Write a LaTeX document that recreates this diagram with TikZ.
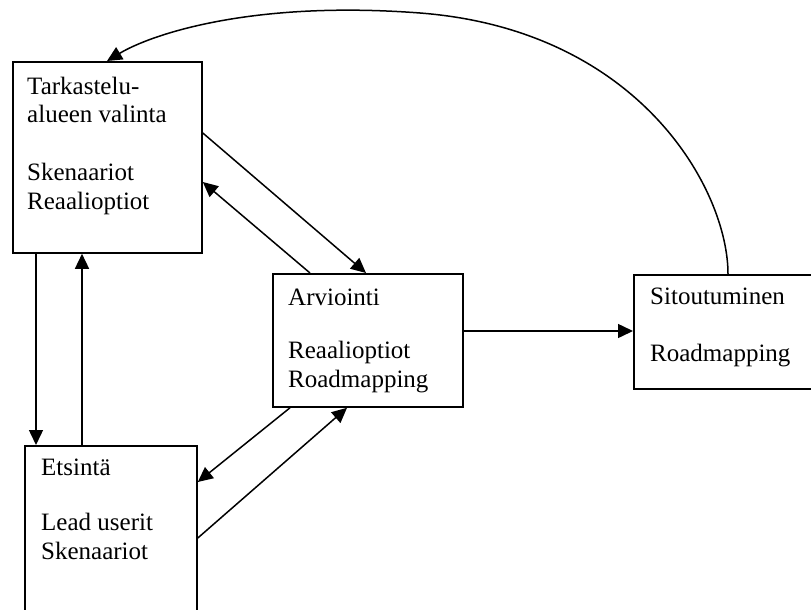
\documentclass[tikz,border=0pt]{standalone}
\usepackage{fontspec}
\setmainfont{Liberation Serif}
\usetikzlibrary{arrows.meta}
\begin{document}
\begin{tikzpicture}[x=1pt,y=-1pt,
  box/.style={draw,line width=1.8pt,inner sep=0pt,anchor=north west},
  lbl/.style={anchor=north west,inner sep=0pt,align=left,
    font={\fontsize{25}{28.7}\selectfont}},
  arr/.style={line width=1.5pt,-{Triangle[length=15pt,width=14pt]}}]
\useasboundingbox (0,0) rectangle (811,610);
\clip (0,0) rectangle (811,610);

% process stages
\node[box,minimum width=189pt,minimum height=191pt] (b1) at (12,61) {};
\node[box,minimum width=172pt,minimum height=200pt] (b2) at (24,445) {};
\node[box,minimum width=190pt,minimum height=133pt] (b3) at (272,273) {};
\node[box,minimum width=200pt,minimum height=114pt] (b4) at (633,274) {};

% stage texts
\node[lbl] (t1) at ([xshift=15pt,yshift=-13pt]b1.north west)
  {\strut Tarkastelu-\\alueen valinta\\[28.7pt]Skenaariot\\Reaalioptiot};
\node[lbl] (t2) at ([xshift=17pt,yshift=-10pt]b2.north west)
  {\strut Etsintä\\[27pt]Lead userit\\Skenaariot};
\node[lbl] (t3) at ([xshift=16pt,yshift=-12pt]b3.north west)
  {\strut Arviointi\\[25pt]Reaalioptiot\\Roadmapping};
\node[lbl] (t4) at ([xshift=17pt,yshift=-10pt]b4.north west)
  {\strut Sitoutuminen\\[29pt]Roadmapping};

% connectors
\draw[arr] ([xshift=24pt]b1.south west) -- ([xshift=12pt]b2.north west);
\draw[arr] ([xshift=58pt]b2.north west) -- ([xshift=70pt]b1.south west);
\draw[arr] ([yshift=-72pt]b1.north east) -- ([xshift=94pt]b3.north west);
\draw[arr] ([xshift=38pt]b3.north west) -- ([yshift=-121pt]b1.north east);
\draw[arr] ([xshift=18pt]b3.south west) -- ([yshift=-37pt]b2.north east);
\draw[arr] ([yshift=-93pt]b2.north east) -- ([xshift=75pt]b3.south west);
\draw[arr] ([yshift=-58pt]b3.north east) -- ([yshift=-57pt]b4.north west);
\draw[arr] ([xshift=95pt]b4.north west)
  .. controls (728,190) and (640,30) .. (420,13)
  .. controls (250,0) and (150,35) .. ([xshift=95pt]b1.north west);
\end{tikzpicture}
\end{document}
